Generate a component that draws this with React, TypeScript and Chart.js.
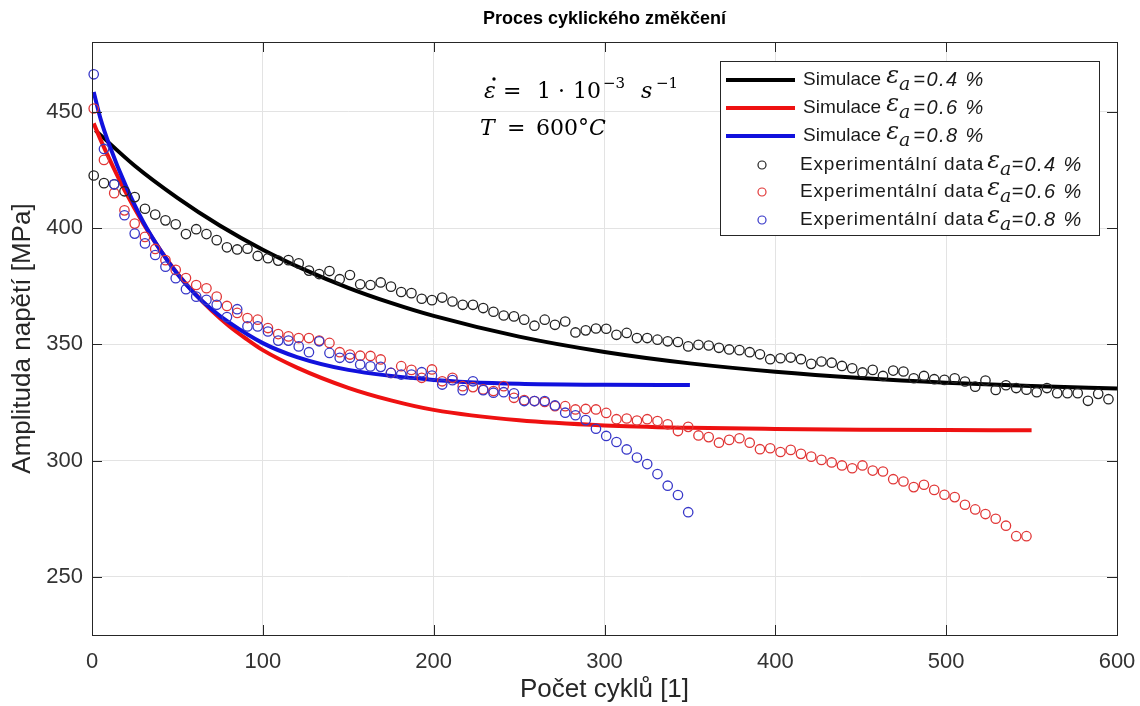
import React, { useEffect, useRef } from "react";
import { Chart, registerables } from "chart.js";

Chart.register(...registerables);

// ---------- data ----------
const X_TICKS = [0, 100, 200, 300, 400, 500, 600];
const Y_TICKS = [250, 300, 350, 400, 450];

// Simulation curves
const SIM_04_X = [2, 25, 50, 75, 100, 125, 150, 175, 200, 250, 300, 350, 400, 450, 500, 550, 600];
const SIM_04_Y = [442, 426.8, 413, 401, 390.7, 381.9, 374.3, 367.8, 362.2, 353.3, 346.7, 341.8, 338.2, 335.5, 333.5, 332.1, 331.0];

const SIM_06_X = [1, 5, 10, 20, 30, 40, 50, 60, 70, 80, 90, 100, 120, 150, 175, 200, 250, 300, 350, 400, 450, 500, 550];
const SIM_06_Y = [445, 438, 430, 415, 402, 390.5, 380.5, 372, 364.5, 358, 352.5, 347.5, 340, 331.3, 325.9, 321.8, 317.3, 315.1, 314.1, 313.6, 313.3, 313.1, 313];

const SIM_08_X = [1, 5, 10, 20, 30, 40, 50, 60, 70, 80, 100, 120, 150, 200, 250, 300, 350];
const SIM_08_Y = [458.5, 447, 436, 417.8, 402.6, 390.5, 380.2, 371.8, 365.1, 359.5, 350.5, 344.5, 339, 334.7, 333, 332.6, 332.5];

// Experimental cycles
const EXP_CYCLES = [
  1, 7, 13, 19, 25, 31, 37, 43, 49, 55,
  61, 67, 73, 79, 85, 91, 97, 103, 109, 115,
  121, 127, 133, 139, 145, 151, 157, 163, 169, 175,
  181, 187, 193, 199, 205, 211, 217, 223, 229, 235,
  241, 247, 253, 259, 265, 271, 277, 283, 289, 295,
  301, 307, 313, 319, 325, 331, 337, 343, 349, 355,
  361, 367, 373, 379, 385, 391, 397, 403, 409, 415,
  421, 427, 433, 439, 445, 451, 457, 463, 469, 475,
  481, 487, 493, 499, 505, 511, 517, 523, 529, 535,
  541, 547, 553, 559, 565, 571, 577, 583, 589, 595,
];

const EXP_04 = [
  422.6, 419.3, 418.8, 415.8, 413.3, 408.3, 405.8, 403.3, 401.6, 397.4,
  399.5, 397.4, 394.8, 391.7, 390.8, 391.1, 388, 387, 386, 386.2,
  384.8, 381.7, 380.2, 381.5, 378, 379.8, 375.8, 375.5, 376.6, 374.8,
  372.5, 372, 369.6, 369, 370.1, 368.4, 367, 367, 365.6, 364,
  362.4, 362, 360.6, 358, 360.6, 358.4, 359.8, 355.1, 356, 356.8,
  356.7, 354.1, 354.9, 352.7, 352.7, 352, 351.3, 351, 349.1, 349.8,
  349.5, 348.5, 347.8, 347.5, 346.6, 345.7, 343.6, 344, 344.3, 343.6,
  341.6, 342.6, 342.1, 340.7, 339.7, 337.9, 339, 336.4, 338.7, 338.3,
  335.4, 336.4, 335, 334.7, 335.4, 334, 331.8, 334.4, 330.4, 332.4,
  331.2, 330.5, 329.4, 331.2, 329, 329, 329, 325.7, 328.7, 326.4,
];

const EXP_06 = [
  451.4, 429.3, 415, 407.6, 401.9, 396.2, 391, 386.2, 382, 378.5,
  375.5, 374.1, 370.5, 366.5, 363.5, 361.3, 360.6, 357, 354.4, 353.4,
  352.7, 352.7, 351.6, 350.6, 346.6, 345.6, 345.1, 345, 343.5, 337.7,
  340.6, 339, 335.6, 339.2, 334.1, 335.6, 332, 331.6, 330.6, 329.9,
  332, 327, 326, 325.6, 325.2, 323.4, 323.4, 322, 322.2, 322,
  320.5, 317.8, 318.1, 317.2, 317.8, 317, 315.6, 312.7, 314.5, 310.8,
  310.1, 307.7, 308.9, 309.6, 307.7, 304.9, 305.3, 303.7, 304.6, 302.9,
  301.7, 300.3, 299.2, 297.9, 296.7, 297.9, 295.7, 295.3, 292, 291,
  288.6, 289.6, 287.4, 285.3, 284.3, 281, 279, 277, 275, 272,
  267.5, 267.5,
];

const EXP_08 = [
  466.1, 434, 418.8, 405.5, 397.6, 393.4, 388.4, 383.4, 378.4, 373.7,
  370.5, 369.1, 367, 361.7, 365.1, 357.7, 357.7, 355.5, 351.6, 351.6,
  349.1, 346.6, 351.3, 346.3, 344.2, 344.2, 341.3, 340.5, 340.3, 337.7,
  337, 337, 338, 336.6, 332.7, 334.6, 330.3, 334.1, 330.3, 329.2,
  329.4, 328.9, 325.6, 325.6, 325.6, 323.7, 320.6, 319.5, 317.4, 313.7,
  310.6, 308, 304.8, 301.3, 298.5, 294.2, 289.2, 285.2, 277.8,
];

const STRAIN_LABELS = ["0.4", "0.6", "0.8"];
const TITLE = "Proces cyklického změkčení";
const X_TITLE = "Počet cyklů [1]";
const Y_TITLE = "Amplituda napětí [MPa]";

// ---------- styles ----------
const SANS = '"Liberation Sans", Arial, Helvetica, sans-serif';
const SERIF = '"DejaVu Serif", "Liberation Serif", serif';
const BLACK_LINE = "#000000";
const RED_LINE = "#ee1111";
const BLUE_LINE = "#1111dd";
const BLACK_PT = "#222222";
const RED_PT = "rgb(225,55,55)";
const BLUE_PT = "rgb(55,55,200)";
const AXIS_COLOR = "#262626";

const zip = (xs: number[], ys: number[]) => ys.map((y, i) => ({ x: xs[i], y }));

function simDataset(xs: number[], ys: number[], color: string, order: number) {
  return {
    data: zip(xs, ys),
    showLine: true,
    borderColor: color,
    backgroundColor: color,
    borderWidth: 4,
    pointRadius: 0,
    cubicInterpolationMode: "monotone" as const,
    borderCapStyle: "butt" as const,
    order,
    clip: false as const,
  };
}

function expDataset(ys: number[], color: string, order: number) {
  return {
    data: zip(EXP_CYCLES, ys),
    showLine: false,
    pointStyle: "circle" as const,
    pointRadius: 4.7,
    pointBorderWidth: 1.3,
    pointBackgroundColor: "rgba(0,0,0,0)",
    pointBorderColor: color,
    borderColor: color,
    order,
    clip: false as const,
  };
}

const overlayPlugin = {
  id: "overlay",
  beforeDraw(chart: any) {
    const ctx = chart.ctx;
    ctx.save();
    ctx.fillStyle = "#ffffff";
    ctx.fillRect(0, 0, chart.width, chart.height);
    ctx.restore();
  },
  afterDraw(chart: any) {
    const ctx: any = chart.ctx;
    const { left, right, top, bottom } = chart.chartArea;
    const xs = chart.scales.x;
    const ys = chart.scales.y;
    ctx.save();

    // box
    ctx.strokeStyle = AXIS_COLOR;
    ctx.lineWidth = 1;
    ctx.strokeRect(Math.round(left) + 0.5, Math.round(top) + 0.5, Math.round(right - left), Math.round(bottom - top));

    // inward ticks
    const TL = 10;
    ctx.beginPath();
    X_TICKS.forEach((v) => {
      const px = Math.round(xs.getPixelForValue(v)) + 0.5;
      ctx.moveTo(px, bottom);
      ctx.lineTo(px, bottom - TL);
      ctx.moveTo(px, top);
      ctx.lineTo(px, top + TL);
    });
    Y_TICKS.forEach((v) => {
      const py = Math.round(ys.getPixelForValue(v)) + 0.5;
      ctx.moveTo(left, py);
      ctx.lineTo(left + TL, py);
      ctx.moveTo(right, py);
      ctx.lineTo(right - TL, py);
    });
    ctx.stroke();

    // title
    ctx.fillStyle = "#000";
    ctx.font = `bold 18px ${SANS}`;
    ctx.textAlign = "center";
    ctx.textBaseline = "middle";
    ctx.fillText(TITLE, (left + right) / 2, 19);

    // axis titles
    ctx.fillStyle = AXIS_COLOR;
    ctx.font = `26px ${SANS}`;
    ctx.fillText(X_TITLE, (left + right) / 2, 690);
    ctx.save();
    ctx.translate(23, (top + bottom) / 2);
    ctx.rotate(-Math.PI / 2);
    ctx.fillText(Y_TITLE, 0, 0);
    ctx.restore();

    // annotation
    ctx.fillStyle = "#000";
    ctx.textAlign = "left";
    ctx.textBaseline = "alphabetic";
    const big = `22px ${SERIF}`;
    const bigI = `italic 22px ${SERIF}`;
    const sup = `15px ${SERIF}`;
    const l1 = 98;
    ctx.font = bigI;
    ctx.fillText("ε", 484, l1);
    ctx.beginPath();
    ctx.arc(494, l1 - 19, 1.7, 0, Math.PI * 2);
    ctx.fill();
    ctx.font = big;
    ctx.fillText("=", 503, l1);
    ctx.fillText("1", 537, l1);
    ctx.fillText("·", 558, l1);
    ctx.fillText("10", 573, l1);
    ctx.font = sup;
    ctx.fillText("−3", 603, l1 - 10);
    ctx.font = bigI;
    ctx.fillText("s", 641, l1);
    ctx.font = sup;
    ctx.fillText("−1", 656, l1 - 10);
    const l2 = 135;
    ctx.font = bigI;
    ctx.fillText("T", 480, l2);
    ctx.font = big;
    ctx.fillText("=", 507, l2);
    ctx.fillText("600°", 536, l2);
    const degW = ctx.measureText("600°").width;
    ctx.font = bigI;
    ctx.fillText("C", 536 + degW, l2);

    // legend
    const lx0 = 720, ly0 = 61, lx1 = 1099, ly1 = 235;
    ctx.fillStyle = "#ffffff";
    ctx.fillRect(lx0, ly0, lx1 - lx0, ly1 - ly0);
    ctx.strokeStyle = AXIS_COLOR;
    ctx.lineWidth = 1;
    ctx.strokeRect(lx0 + 0.5, ly0 + 0.5, lx1 - lx0, ly1 - ly0);

    const rowsY = [80, 108, 136, 165, 192, 220];
    const lineColors = [BLACK_LINE, RED_LINE, BLUE_LINE];
    const ptColors = [BLACK_PT, RED_PT, BLUE_PT];
    for (let i = 0; i < 6; i++) {
      const y = rowsY[i];
      const isSim = i < 3;
      const k = i % 3;
      if (isSim) {
        ctx.strokeStyle = lineColors[k];
        ctx.lineWidth = 4;
        ctx.beginPath();
        ctx.moveTo(726, y);
        ctx.lineTo(795, y);
        ctx.stroke();
      } else {
        ctx.strokeStyle = ptColors[k];
        ctx.lineWidth = 1.2;
        ctx.beginPath();
        ctx.arc(762, y, 4, 0, Math.PI * 2);
        ctx.stroke();
      }
      ctx.fillStyle = "#1a1a1a";
      ctx.textBaseline = "middle";
      ctx.font = `19px ${SANS}`;
      const label = isSim ? "Simulace" : "Experimentální data";
      const tx = isSim ? 803 : 800;
      ctx.letterSpacing = isSim ? "0px" : "0.8px";
      ctx.fillText(label, tx, y);
      let ex = tx + ctx.measureText(label).width + (isSim ? 5 : 3);
      ctx.letterSpacing = "0px";
      ctx.textBaseline = "alphabetic";
      ctx.font = `italic 24px ${SERIF}`;
      ctx.fillText("ε", ex, y + 3);
      ex += ctx.measureText("ε").width;
      ctx.font = `italic 19px ${SERIF}`;
      ctx.fillText("a", ex, y + 10);
      ex += ctx.measureText("a").width + (isSim ? 3 : 0);
      ctx.font = `italic 20px ${SANS}`;
      ctx.textBaseline = "middle";
      ctx.letterSpacing = "1.4px";
      ctx.fillText("=" + STRAIN_LABELS[k] + " %", ex, y);
      ctx.letterSpacing = "0px";
    }

    ctx.restore();
  },
};

export default function App() {
  const ref = useRef<HTMLCanvasElement | null>(null);

  useEffect(() => {
    if (!ref.current) return;
    const chart = new Chart(ref.current, {
      type: "scatter",
      data: {
        datasets: [
          simDataset(SIM_04_X, SIM_04_Y, BLACK_LINE, 6),
          simDataset(SIM_06_X, SIM_06_Y, RED_LINE, 5),
          simDataset(SIM_08_X, SIM_08_Y, BLUE_LINE, 4),
          expDataset(EXP_04, BLACK_PT, 3),
          expDataset(EXP_06, RED_PT, 2),
          expDataset(EXP_08, BLUE_PT, 1),
        ] as any,
      },
      options: {
        responsive: false,
        animation: false,
        devicePixelRatio: 1,
        layout: { padding: { top: 42, right: 23, left: 0, bottom: 0 } },
        plugins: {
          legend: { display: false },
          title: { display: false },
          tooltip: { enabled: false },
        },
        scales: {
          x: {
            type: "linear",
            min: 0,
            max: 600,
            afterBuildTicks: (s: any) => {
              s.ticks = X_TICKS.map((v) => ({ value: v }));
            },
            afterFit: (s: any) => {
              s.height = 71;
              s.paddingLeft = 0;
              s.paddingRight = 0;
            },
            grid: { color: "#e3e3e3", drawTicks: false, lineWidth: 1 },
            border: { display: false },
            ticks: {
              padding: 14,
              color: "#333333",
              font: { family: SANS, size: 22 },
              maxRotation: 0,
              autoSkip: false,
            },
          },
          y: {
            type: "linear",
            min: 225,
            max: 480,
            afterBuildTicks: (s: any) => {
              s.ticks = Y_TICKS.map((v) => ({ value: v }));
            },
            afterFit: (s: any) => {
              s.width = 92;
              s.paddingTop = 0;
              s.paddingBottom = 0;
            },
            grid: { color: "#e3e3e3", drawTicks: false, lineWidth: 1 },
            border: { display: false },
            ticks: {
              padding: 9,
              color: "#333333",
              font: { family: SANS, size: 22 },
              autoSkip: false,
            },
          },
        },
      } as any,
      plugins: [overlayPlugin],
    });
    return () => chart.destroy();
  }, []);

  return (
    <div style={{ position: "absolute", left: 0, top: 0, width: 1140, height: 706, background: "#fff" }}>
      <canvas ref={ref} width={1140} height={706} style={{ display: "block", width: 1140, height: 706 }} />
    </div>
  );
}
